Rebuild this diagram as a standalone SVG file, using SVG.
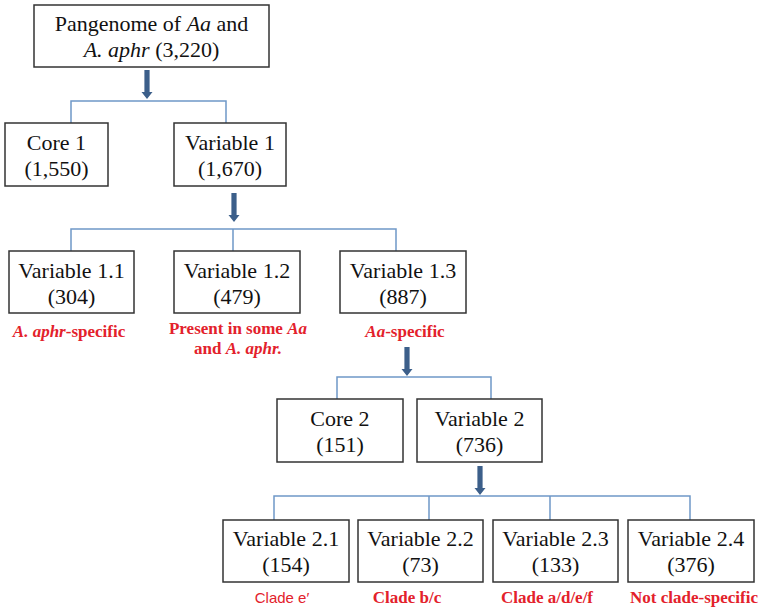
<svg xmlns="http://www.w3.org/2000/svg" width="764" height="612" viewBox="0 0 764 612">
<style>
.box{fill:#fff;stroke:#333;stroke-width:1.5}
.t{font-family:"Liberation Serif","Times New Roman",serif;font-size:22px;fill:#111;text-anchor:middle}
.r{font-family:"Liberation Serif","Times New Roman",serif;font-size:17px;font-weight:bold;fill:#e3212b;text-anchor:middle}
.rs{font-family:"Liberation Sans",Arial,sans-serif;font-size:15px;fill:#e3212b;text-anchor:middle}
.ln{fill:none;stroke:#6f98c8;stroke-width:1.5}
.ar{fill:#3c5f8a}
</style>
<defs>
<path id="arrow" d="M-2.6,0 H2.6 V22 H5.5 L0,29 L-5.5,22 H-2.6 Z"/>
</defs>
<rect width="764" height="612" fill="#fff"/>
<g id="connectors">
<use href="#arrow" class="ar" x="147" y="70"/>
<path class="ln" d="M71,123 V101 H226 V123"/>
<use href="#arrow" class="ar" x="234" y="193"/>
<path class="ln" d="M71,251 V229 H396 V251 M233,229 V251"/>
<use href="#arrow" class="ar" x="407" y="347"/>
<path class="ln" d="M337,399 V377 H491 V399"/>
<use href="#arrow" class="ar" x="480" y="466"/>
<path class="ln" d="M274,520 V496 H690 V520 M429,496 V520 M550,496 V520"/>
</g>
<g id="pangenome">
<rect class="box" x="34" y="5" width="235" height="62"/>
<text class="t" x="151.5" y="31">Pangenome of <tspan font-style="italic">Aa</tspan> and</text>
<text class="t" x="151.5" y="57"><tspan font-style="italic">A. aphr</tspan> (3,220)</text>
</g>
<g id="core1">
<rect class="box" x="5" y="123" width="103" height="63"/>
<text class="t" x="56.5" y="150">Core 1</text>
<text class="t" x="56.5" y="176">(1,550)</text>
</g>
<g id="variable1">
<rect class="box" x="174" y="123" width="112" height="63"/>
<text class="t" x="230" y="150">Variable 1</text>
<text class="t" x="230" y="176">(1,670)</text>
</g>
<g id="variable1_1">
<rect class="box" x="9" y="251" width="125" height="62"/>
<text class="t" x="71.5" y="278">Variable 1.1</text>
<text class="t" x="71.5" y="304">(304)</text>
<text class="r" x="69" y="337"><tspan font-style="italic">A. aphr</tspan>-specific</text>
</g>
<g id="variable1_2">
<rect class="box" x="174" y="251" width="126" height="62"/>
<text class="t" x="237" y="278">Variable 1.2</text>
<text class="t" x="237" y="304">(479)</text>
<text class="r" x="238" y="334">Present in some <tspan font-style="italic">Aa</tspan></text>
<text class="r" x="238" y="354">and <tspan font-style="italic">A. aphr.</tspan></text>
</g>
<g id="variable1_3">
<rect class="box" x="340" y="251" width="126" height="62"/>
<text class="t" x="403" y="278">Variable 1.3</text>
<text class="t" x="403" y="304">(887)</text>
<text class="r" x="405" y="337"><tspan font-style="italic">Aa</tspan>-specific</text>
</g>
<g id="core2">
<rect class="box" x="277" y="399" width="126" height="63"/>
<text class="t" x="340" y="426">Core 2</text>
<text class="t" x="340" y="452">(151)</text>
</g>
<g id="variable2">
<rect class="box" x="417" y="399" width="125" height="63"/>
<text class="t" x="479.5" y="426">Variable 2</text>
<text class="t" x="479.5" y="452">(736)</text>
</g>
<g id="variable2_1">
<rect class="box" x="223" y="520" width="126" height="62"/>
<text class="t" x="286" y="546">Variable 2.1</text>
<text class="t" x="286" y="572">(154)</text>
<text class="rs" x="282" y="603">Clade e′</text>
</g>
<g id="variable2_2">
<rect class="box" x="358" y="520" width="125" height="62"/>
<text class="t" x="420.5" y="546">Variable 2.2</text>
<text class="t" x="420.5" y="572">(73)</text>
<text class="r" x="407" y="603">Clade b/c</text>
</g>
<g id="variable2_3">
<rect class="box" x="493" y="520" width="125" height="62"/>
<text class="t" x="555.5" y="546">Variable 2.3</text>
<text class="t" x="555.5" y="572">(133)</text>
<text class="r" x="547" y="603">Clade a/d/e/f</text>
</g>
<g id="variable2_4">
<rect class="box" x="628" y="520" width="126" height="62"/>
<text class="t" x="691" y="546">Variable 2.4</text>
<text class="t" x="691" y="572">(376)</text>
<text class="r" x="694" y="603">Not clade-specific</text>
</g>
</svg>
